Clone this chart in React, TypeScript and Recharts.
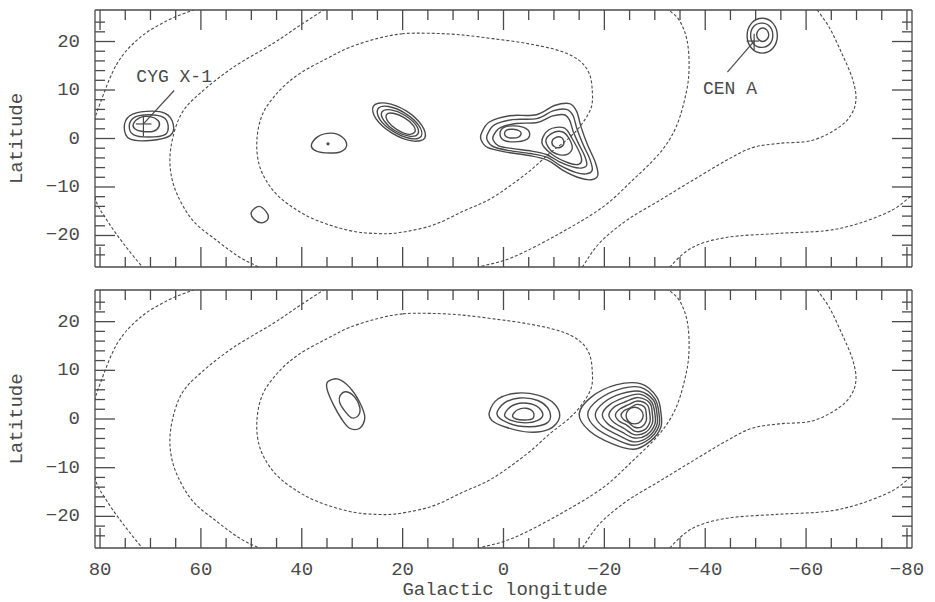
import { ComposedChart, Line, XAxis, YAxis, ReferenceDot } from "recharts";

type P = [number, number];

const INK = "#4a4a4a";
const FONT = "'Liberation Mono', 'DejaVu Sans Mono', monospace";

// axis ticks
const lonTicks = [80, 75, 70, 65, 60, 55, 50, 45, 40, 35, 30, 25, 20, 15, 10, 5, 0, -5, -10, -15, -20, -25, -30, -35, -40, -45, -50, -55, -60, -65, -70, -75, -80];
const lonLabels = [80, 60, 40, 20, 0, -20, -40, -60, -80];
const latTicks = [24, 22, 20, 18, 16, 14, 12, 10, 8, 6, 4, 2, 0, -2, -4, -6, -8, -10, -12, -14, -16, -18, -20, -22, -24];
const latLabels = [20, 10, 0, -10, -20];

// exposure contours (dashed), same in both panels
const expoA: P[] = [[57.5, 28.0], [61.8, 26.4], [66.7, 24.3], [72.1, 20.8], [76.6, 15.5], [80.0, 7.2], [81.2, 3.0], [82.0, -4.0], [81.0, -12.2], [78.6, -16.9], [75.4, -21.6], [71.5, -26.6], [69.0, -29.0]];
const expoB: P[] = [[32.0, 28.8], [35.8, 26.4], [40.4, 23.3], [45.7, 19.6], [53.7, 14.6], [60.2, 9.3], [63.8, 5.2], [65.7, -0.4], [66.1, -5.9], [64.8, -11.3], [61.6, -16.9], [56.9, -21.0], [52.3, -24.5], [48.3, -26.6], [44.5, -28.6]];
const expoC: P[] = [[20.0, 21.6], [25.1, 20.6], [30.5, 18.8], [35.0, 16.5], [40.4, 13.4], [44.4, 9.9], [47.7, 5.2], [48.9, -0.4], [48.3, -5.9], [45.7, -10.7], [41.8, -14.2], [37.0, -16.9], [30.5, -19.0], [25.1, -19.6], [20.6, -19.4], [14.1, -17.9], [8.0, -15.0], [2.2, -12.2], [-4.6, -7.2], [-9.1, -3.1], [-13.1, 0.2], [-15.6, 3.1], [-17.4, 6.4], [-17.6, 9.9], [-17.0, 13.4], [-15.0, 16.1], [-11.1, 18.1], [-4.6, 19.6], [2.2, 20.6], [8.7, 21.4], [14.7, 21.7]];
const expoD: P[] = [[-30.3, 29.2], [-32.5, 26.8], [-34.9, 24.3], [-36.4, 20.2], [-36.8, 14.6], [-36.2, 9.3], [-34.2, 2.3], [-30.9, -3.1], [-25.5, -8.7], [-19.6, -14.2], [-11.1, -19.6], [-1.8, -24.5], [5.3, -26.6], [9.5, -28.0]];
const expoE: P[] = [[-60.5, 29.0], [-62.0, 26.8], [-64.6, 22.9], [-67.1, 17.5], [-69.1, 12.6], [-69.9, 8.5], [-69.1, 5.2], [-66.5, 2.3], [-61.2, -0.4], [-54.7, -1.0], [-49.3, -1.9], [-44.2, -4.5], [-37.4, -8.7], [-30.9, -12.8], [-24.4, -16.9], [-19.0, -21.6], [-15.6, -26.6], [-14.3, -29.0]];
const expoF: P[] = [[-83.0, -10.0], [-80.4, -12.2], [-77.0, -14.8], [-70.5, -17.5], [-64.0, -19.0], [-54.1, -19.6], [-44.2, -20.4], [-37.4, -22.5], [-32.9, -26.6], [-31.5, -29.0]];

// upper panel sources
const cyg1: P[] = [[75.2, 2.3], [74.1, 4.7], [70.8, 5.6], [67.1, 5.2], [65.5, 3.0], [66.1, 0.6], [70.1, -0.4], [74.1, -0.1]];
const cyg2: P[] = [[74.2, 2.7], [73.1, 4.4], [70.4, 4.9], [67.5, 4.4], [66.5, 2.7], [67.1, 0.8], [70.4, 0.3], [73.4, 0.8]];
const cyg3: P[] = [[73.4, 3.0], [72.1, 4.3], [70.1, 4.5], [68.5, 3.7], [68.3, 2.5], [69.4, 1.5], [71.8, 1.5], [73.1, 2.0]];
const src35: P[] = [[38.1, -1.4], [36.8, 0.4], [34.1, 1.1], [32.0, 0.3], [31.1, -1.4], [32.2, -2.7], [34.5, -3.0], [37.1, -2.6]];
const src48: P[] = [[50.0, -15.2], [48.5, -14.0], [47.0, -15.2], [46.7, -16.6], [48.0, -17.4], [49.5, -16.6]];
const src20a: P[] = [[15.6, 0.1], [18.1, -0.5], [22.1, 1.1], [25.3, 4.1], [25.8, 6.7], [23.3, 7.3], [19.3, 5.7], [16.2, 2.7]];
const src20b: P[] = [[16.3, 0.5], [18.4, 0.0], [21.8, 1.4], [24.5, 3.9], [24.9, 6.1], [22.8, 6.6], [19.5, 5.2], [16.8, 2.7]];
const src20c: P[] = [[17.0, 0.9], [18.7, 0.5], [21.5, 1.6], [23.7, 3.7], [24.1, 5.5], [22.3, 5.9], [19.6, 4.8], [17.3, 2.7]];
const src20d: P[] = [[17.6, 1.3], [19.0, 0.9], [21.2, 1.9], [22.9, 3.5], [23.2, 4.9], [21.9, 5.2], [19.7, 4.3], [17.9, 2.7]];
const gc1: P[] = [[4.4, 1.0], [2.8, 3.4], [-1.2, 4.7], [-6.5, 4.9], [-10.1, 6.8], [-13.1, 7.2], [-14.5, 5.6], [-15.4, 2.3], [-16.7, -1.4], [-18.2, -4.9], [-18.7, -7.6], [-17.4, -8.5], [-15.0, -8.1], [-11.7, -6.5], [-8.8, -4.5], [-5.1, -3.5], [-0.5, -2.8], [3.1, -1.9], [4.4, -0.4]];
const gc2: P[] = [[3.2, 0.8], [1.8, 2.8], [-1.8, 3.9], [-6.6, 4.1], [-9.8, 5.7], [-12.5, 6.0], [-13.8, 4.7], [-14.6, 1.9], [-15.8, -1.3], [-17.1, -4.2], [-17.6, -6.5], [-16.4, -7.3], [-14.3, -7.0], [-11.3, -5.6], [-8.7, -3.9], [-5.3, -3.1], [-1.2, -2.5], [2.0, -1.7], [3.2, -0.4]];
const gc3: P[] = [[2.0, 0.6], [0.7, 2.2], [-2.5, 3.1], [-6.7, 3.3], [-9.6, 4.6], [-12.0, 4.9], [-13.1, 3.8], [-13.8, 1.5], [-14.9, -1.1], [-16.1, -3.6], [-16.5, -5.5], [-15.4, -6.1], [-13.5, -5.8], [-10.9, -4.7], [-8.5, -3.3], [-5.6, -2.6], [-1.9, -2.1], [1.0, -1.5], [2.0, -0.4]];
const gcL1: P[] = [[0.7, 1.0], [-0.1, 2.3], [-2.2, 2.6], [-4.4, 2.1], [-5.2, 0.9], [-4.4, -0.3], [-2.2, -0.7], [-0.1, -0.4]];
const gcL2: P[] = [[-0.2, 1.0], [-0.7, 1.8], [-1.9, 1.9], [-3.1, 1.6], [-3.5, 1.0], [-3.0, 0.3], [-1.8, 0.1], [-0.7, 0.3]];
const gcR1: P[] = [[-9.6, -0.7], [-10.3, 0.2], [-11.5, 0.2], [-12.0, -0.9], [-11.3, -1.8], [-10.1, -1.7]];
const gcR2: P[] = [[-8.4, -0.6], [-9.5, 1.0], [-11.6, 1.4], [-13.0, 0.0], [-13.6, -2.2], [-12.2, -3.4], [-9.8, -2.8]];
const gcR3: P[] = [[-7.6, -0.8], [-9.0, 1.8], [-12.0, 2.2], [-13.6, 0.0], [-15.4, -3.8], [-15.0, -5.3], [-12.8, -5.0], [-9.5, -3.2]];
const cen1: P[] = [[-48.3, 21.2], [-49.2, 23.8], [-51.3, 24.8], [-53.4, 23.8], [-54.3, 21.2], [-53.4, 18.6], [-51.3, 17.6], [-49.2, 18.6]];
const cen2: P[] = [[-49.0, 21.3], [-49.6, 23.1], [-51.2, 23.8], [-52.8, 23.1], [-53.4, 21.3], [-52.8, 19.5], [-51.2, 18.8], [-49.6, 19.5]];
const cen3: P[] = [[-50.2, 21.4], [-50.6, 22.4], [-51.4, 22.8], [-52.2, 22.4], [-52.6, 21.4], [-52.2, 20.4], [-51.4, 20.0], [-50.6, 20.4]];

// upper panel markers
const cygPointer: P[] = [[71.4, 3.0], [65.3, 9.9]];
const cygCrossV: P[] = [[71.4, 4.7], [71.4, 0.4]];
const cygCrossH: P[] = [[72.9, 3.0], [69.8, 3.0]];
const cenPointer: P[] = [[-49.7, 20.1], [-44.4, 13.7]];
const cenCrossV: P[] = [[-49.7, 21.6], [-49.7, 18.1]];
const cenCrossH: P[] = [[-48.2, 20.1], [-50.7, 20.1]];
const upperDots: P[] = [[34.8, -1.1]];
const upperNotes = [
  { text: "CYG X-1", at: [65.3, 12.7] as P },
  { text: "CEN A", at: [-44.9, 10.3] as P },
];

// lower panel sources
const low30a: P[] = [[34.8, 7.7], [32.8, 8.2], [30.5, 6.5], [28.5, 3.4], [27.5, 0.3], [28.5, -1.9], [30.5, -1.9], [32.1, 0.0], [33.8, 3.1], [35.0, 6.2]];
const low30b: P[] = [[32.4, 4.8], [31.2, 5.6], [29.5, 4.5], [28.5, 2.4], [28.8, 0.7], [30.2, 0.3], [31.8, 2.1], [32.5, 3.4]];
const low4a: P[] = [[2.8, 1.4], [1.1, 4.1], [-2.5, 5.3], [-6.8, 4.9], [-10.1, 3.1], [-11.1, 0.3], [-9.1, -2.1], [-5.1, -2.7], [-0.5, -1.7], [2.3, -0.3]];
const low4b: P[] = [[1.3, 1.0], [-0.2, 3.3], [-3.2, 4.3], [-6.8, 3.8], [-9.1, 1.7], [-8.8, -0.7], [-5.1, -1.6], [-0.9, -0.8]];
const low4c: P[] = [[-0.2, 0.8], [-1.5, 2.6], [-3.8, 3.3], [-6.5, 2.7], [-7.8, 1.0], [-6.8, -0.3], [-4.2, -0.8], [-1.5, -0.3]];
const low4d: P[] = [[-1.8, 0.7], [-2.8, 1.9], [-4.5, 2.2], [-5.9, 1.4], [-5.8, 0.1], [-4.2, -0.2], [-2.5, 0.0]];
const low26a: P[] = [[-15.0, 1.0], [-17.4, 4.5], [-22.3, 7.0], [-27.3, 7.2], [-30.4, 4.5], [-31.2, 1.4], [-31.2, -1.7], [-29.2, -4.5], [-25.9, -6.2], [-21.6, -5.1], [-17.0, -2.4]];
const low26b: P[] = [[-16.7, 1.0], [-18.7, 3.9], [-22.9, 6.1], [-27.2, 6.5], [-30.0, 4.2], [-30.8, 1.3], [-30.8, -1.5], [-28.9, -4.1], [-25.9, -5.4], [-22.3, -4.2], [-18.4, -1.9]];
const low26c: P[] = [[-18.2, 0.9], [-19.9, 3.4], [-23.4, 5.2], [-27.0, 5.7], [-29.7, 3.9], [-30.4, 1.3], [-30.4, -1.3], [-28.7, -3.7], [-25.9, -4.7], [-22.9, -3.4], [-19.6, -1.5]];
const low26d: P[] = [[-19.6, 0.9], [-21.0, 2.9], [-23.9, 4.4], [-26.9, 5.1], [-29.3, 3.6], [-30.0, 1.2], [-30.0, -1.1], [-28.4, -3.3], [-25.9, -3.9], [-23.5, -2.7], [-20.8, -1.1]];
const low26e: P[] = [[-20.9, 0.8], [-22.0, 2.5], [-24.3, 3.6], [-26.7, 4.4], [-29.0, 3.3], [-29.5, 1.2], [-29.5, -0.9], [-28.1, -2.8], [-25.9, -3.2], [-24.0, -2.0], [-21.9, -0.7]];
const low26f: P[] = [[-22.2, 0.8], [-23.0, 2.0], [-24.7, 2.9], [-26.6, 3.7], [-28.5, 2.9], [-29.0, 1.1], [-29.0, -0.7], [-27.8, -2.3], [-26.0, -2.5], [-24.5, -1.3], [-22.9, -0.4]];
const low26g: P[] = [[-23.3, 0.8], [-23.9, 1.7], [-25.1, 2.3], [-26.5, 3.0], [-28.0, 2.4], [-28.3, 1.0], [-28.3, -0.4], [-27.4, -1.6], [-26.0, -1.7], [-24.9, -0.8], [-23.8, -0.1]];
const low26h: P[] = [[-24.3, 0.7], [-24.8, 1.9], [-26.0, 2.4], [-27.2, 1.9], [-27.7, 0.7], [-27.2, -0.5], [-26.0, -1.0], [-24.8, -0.5]];

const exposureOpen = [expoA, expoB, expoD, expoE, expoF];
const exposureClosed = [expoC];
const upperSolid = [cyg1, cyg2, cyg3, src35, src48, src20a, src20b, src20c, src20d, gc1, gc2, gc3, gcL1, gcL2, gcR1, gcR2, gcR3, cen1, cen2, cen3];
const upperStrokes = [cygPointer, cygCrossV, cygCrossH, cenPointer, cenCrossV, cenCrossH];
const lowerSolid = [low30a, low30b, low4a, low4b, low4c, low4d, low26a, low26b, low26c, low26d, low26e, low26f, low26g, low26h];

const rows = (pts: P[]) => pts.map(([x, y]) => ({ x, y }));

// smooth curve through the points (Catmull-Rom as cubic Béziers)
const smooth = (closed: boolean) => (ctx: any) => {
  let pts: number[][] = [];
  return {
    areaStart() {},
    areaEnd() {},
    lineStart() {
      pts = [];
    },
    point(x: number, y: number) {
      pts.push([+x, +y]);
    },
    lineEnd() {
      const n = pts.length;
      if (!n) return;
      const at = (i: number) => (closed ? pts[(i + n) % n] : pts[Math.max(0, Math.min(n - 1, i))]);
      ctx.moveTo(pts[0][0], pts[0][1]);
      const segs = closed ? n : n - 1;
      for (let i = 0; i < segs; i++) {
        const p0 = at(i - 1);
        const p1 = at(i);
        const p2 = at(i + 1);
        const p3 = at(i + 2);
        ctx.bezierCurveTo(
          p1[0] + (p2[0] - p0[0]) / 6,
          p1[1] + (p2[1] - p0[1]) / 6,
          p2[0] - (p3[0] - p1[0]) / 6,
          p2[1] - (p3[1] - p1[1]) / 6,
          p2[0],
          p2[1]
        );
      }
      if (closed) ctx.closePath();
    },
  };
};
const openCurve = smooth(false);
const closedCurve = smooth(true);

const fmt = (v: number) => (v < 0 ? `\u2212${-v}` : `${v}`);

function LonTick(props: any) {
  const { x, y, payload, side, showLabel } = props;
  const major = lonLabels.includes(payload.value);
  const len = major ? 20 : 10;
  const dir = side === "top" ? 1 : -1;
  return (
    <g>
      <line x1={x} y1={y} x2={x} y2={y + dir * len} stroke={INK} strokeWidth={1.3} />
      {showLabel && major && (
        <text x={x} y={y + 22} textAnchor="middle" dominantBaseline="central" fontFamily={FONT} fontSize={19} fill={INK}>
          {fmt(payload.value)}
        </text>
      )}
    </g>
  );
}

function LatTick(props: any) {
  const { x, y, payload, side } = props;
  const major = latLabels.includes(payload.value);
  const len = major ? 20 : 10;
  const dir = side === "left" ? 1 : -1;
  return (
    <g>
      <line x1={x} y1={y} x2={x + dir * len} y2={y} stroke={INK} strokeWidth={1.3} />
      {side === "left" && major && (
        <text x={x - 15} y={y} textAnchor="end" dominantBaseline="central" fontFamily={FONT} fontSize={19} fill={INK}>
          {fmt(payload.value)}
        </text>
      )}
    </g>
  );
}

interface PanelProps {
  top: number;
  height: number;
  bottom: number;
  xLabels: boolean;
  solid: P[][];
  strokes?: P[][];
  dots?: P[];
  notes?: { text: string; at: P }[];
}

const frame = { stroke: INK, strokeWidth: 1.3 };

function Panel({ top, height, bottom, xLabels, solid, strokes = [], dots = [], notes = [] }: PanelProps) {
  return (
    <div style={{ position: "absolute", left: 0, top }}>
      <ComposedChart width={935} height={height} margin={{ top: 9, right: 22, bottom, left: 0 }}>
        <XAxis xAxisId="b" dataKey="x" type="number" domain={[-81, 81]} reversed allowDataOverflow ticks={lonTicks} interval={0} height={1} tickSize={0} tickMargin={0} tickLine={false} axisLine={frame} tick={<LonTick side="bottom" showLabel={xLabels} />} />
        <XAxis xAxisId="t" orientation="top" dataKey="x" type="number" domain={[-81, 81]} reversed allowDataOverflow ticks={lonTicks} interval={0} height={1} tickSize={0} tickMargin={0} tickLine={false} axisLine={frame} tick={<LonTick side="top" showLabel={false} />} />
        <YAxis yAxisId="l" dataKey="y" type="number" domain={[-26.5, 26.5]} allowDataOverflow ticks={latTicks} interval={0} width={95} tickSize={0} tickMargin={0} tickLine={false} axisLine={frame} tick={<LatTick side="left" />} />
        <YAxis yAxisId="r" orientation="right" dataKey="y" type="number" domain={[-26.5, 26.5]} allowDataOverflow ticks={latTicks} interval={0} width={1} tickSize={0} tickMargin={0} tickLine={false} axisLine={frame} tick={<LatTick side="right" />} />
        {exposureOpen.map((c, i) => (
          <Line key={`eo${i}`} xAxisId="b" yAxisId="l" data={rows(c)} dataKey="y" type={openCurve as any} stroke={INK} strokeWidth={1.1} strokeDasharray="3 2" dot={false} activeDot={false} isAnimationActive={false} legendType="none" />
        ))}
        {exposureClosed.map((c, i) => (
          <Line key={`ec${i}`} xAxisId="b" yAxisId="l" data={rows(c)} dataKey="y" type={closedCurve as any} stroke={INK} strokeWidth={1.1} strokeDasharray="3 2" dot={false} activeDot={false} isAnimationActive={false} legendType="none" />
        ))}
        {solid.map((c, i) => (
          <Line key={`s${i}`} xAxisId="b" yAxisId="l" data={rows(c)} dataKey="y" type={closedCurve as any} stroke={INK} strokeWidth={1.4} dot={false} activeDot={false} isAnimationActive={false} legendType="none" />
        ))}
        {strokes.map((c, i) => (
          <Line key={`k${i}`} xAxisId="b" yAxisId="l" data={rows(c)} dataKey="y" type="linear" stroke={INK} strokeWidth={1.2} dot={false} activeDot={false} isAnimationActive={false} legendType="none" />
        ))}
        {dots.map(([x, y], i) => (
          <ReferenceDot key={`d${i}`} xAxisId="b" yAxisId="l" x={x} y={y} r={1.6} fill={INK} stroke="none" />
        ))}
        {notes.map((n, i) => (
          <ReferenceDot
            key={`n${i}`}
            xAxisId="b"
            yAxisId="l"
            x={n.at[0]}
            y={n.at[1]}
            r={0}
            shape={(p: any) => (
              <text x={p.cx} y={p.cy} textAnchor="middle" dominantBaseline="central" fontFamily={FONT} fontSize={18} fill={INK}>
                {n.text}
              </text>
            )}
          />
        ))}
      </ComposedChart>
    </div>
  );
}

export default function App() {
  return (
    <div style={{ position: "absolute", left: 0, top: 0, width: 935, height: 602, background: "#fff" }}>
      <Panel top={0} height={280} bottom={12} xLabels={false} solid={upperSolid} strokes={upperStrokes} dots={upperDots} notes={upperNotes} />
      <Panel top={280} height={322} bottom={53} xLabels solid={lowerSolid} />
      <svg width={935} height={602} style={{ position: "absolute", left: 0, top: 0, pointerEvents: "none" }}>
        <text x={17} y={138.5} transform="rotate(-90 17 138.5)" textAnchor="middle" dominantBaseline="central" fontFamily={FONT} fontSize={19} fill={INK}>
          Latitude
        </text>
        <text x={17} y={419} transform="rotate(-90 17 419)" textAnchor="middle" dominantBaseline="central" fontFamily={FONT} fontSize={19} fill={INK}>
          Latitude
        </text>
        <text x={505} y={590} textAnchor="middle" dominantBaseline="central" fontFamily={FONT} fontSize={19} fill={INK}>
          Galactic longitude
        </text>
      </svg>
    </div>
  );
}
